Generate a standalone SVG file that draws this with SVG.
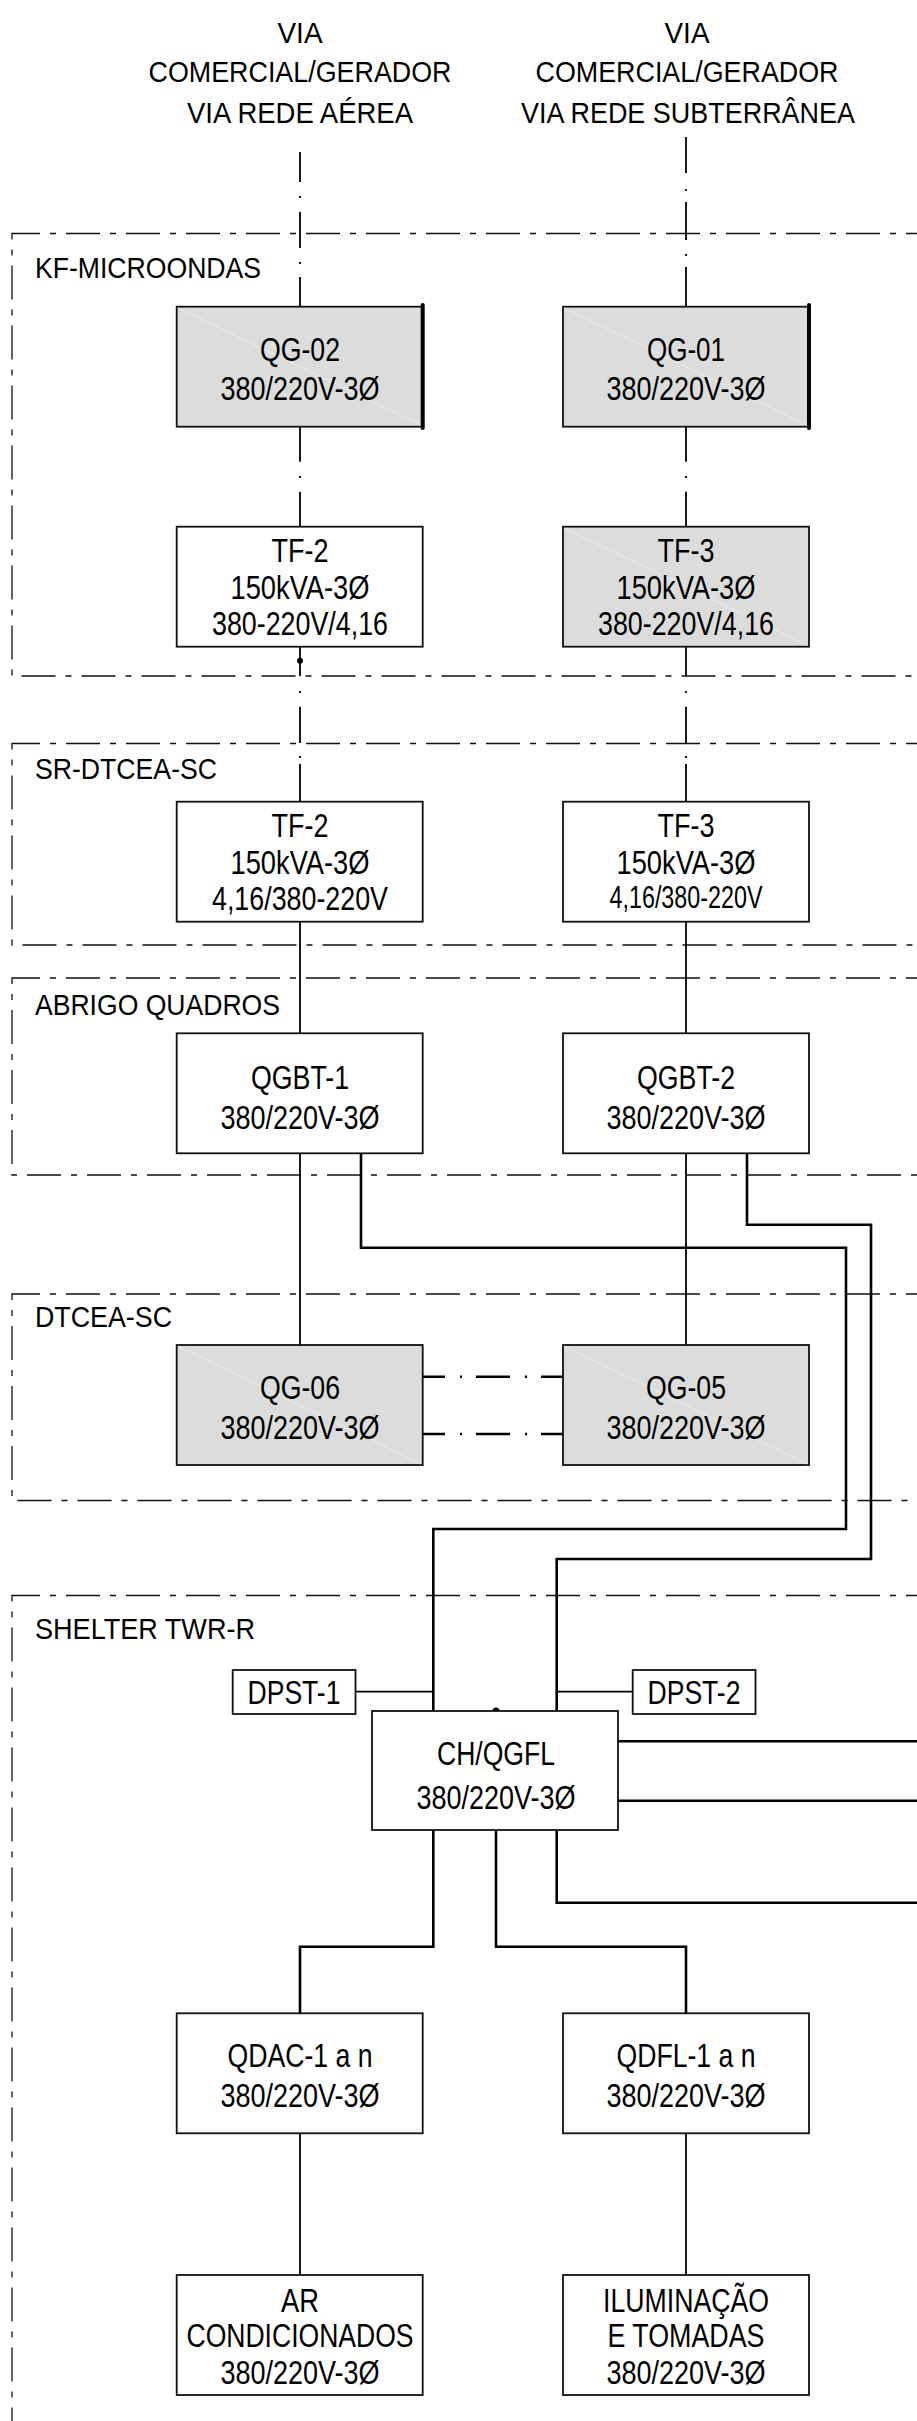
<svg xmlns="http://www.w3.org/2000/svg" width="917" height="2421" viewBox="0 0 917 2421">
<defs>
<style>
text{font-family:"Liberation Sans",Arial,sans-serif;fill:#000;}
.t{font-size:33.5px;text-anchor:middle;}
.l{font-size:30px;}
.lc{font-size:30px;text-anchor:middle;}
.box{fill:#fff;stroke:#111;stroke-width:1.8;}
.grey{fill:#dcdcdc;stroke:#111;stroke-width:1.8;}
.diag{stroke:#ececec;stroke-width:1;}
.edge{stroke:#000;stroke-width:4;stroke-linecap:round;}
.region{fill:none;stroke:#111;stroke-width:1.3;stroke-dasharray:34 10 6 10;}
.w{fill:none;stroke:#000;stroke-width:1.8;}
.wt{fill:none;stroke:#000;stroke-width:2.6;}
.dd{fill:none;stroke:#000;stroke-width:2.6;stroke-dasharray:34 15 2 14;}
</style>
</defs>
<rect width="917" height="2421" fill="#fff"/>

<g id="regions">
<path class="region" d="M940 233.5 H12 V676 H940"/>
<path class="region" d="M940 743.5 H12 V945 H940"/>
<path class="region" d="M940 978 H12 V1175 H940"/>
<path class="region" d="M940 1294 H12 V1500.5 H940"/>
<path class="region" d="M940 1595.5 H12 V2440"/>
<text class="l" x="35" y="278" textLength="226" lengthAdjust="spacingAndGlyphs">KF-MICROONDAS</text>
<text class="l" x="35" y="779" textLength="182" lengthAdjust="spacingAndGlyphs">SR-DTCEA-SC</text>
<text class="l" x="35" y="1015" textLength="245" lengthAdjust="spacingAndGlyphs">ABRIGO QUADROS</text>
<text class="l" x="35" y="1327" textLength="137" lengthAdjust="spacingAndGlyphs">DTCEA-SC</text>
<text class="l" x="35" y="1639" textLength="220" lengthAdjust="spacingAndGlyphs">SHELTER TWR-R</text>
</g>

<g id="source-aerea">
<text class="lc" x="300" y="43" textLength="45" lengthAdjust="spacingAndGlyphs">VIA</text>
<text class="lc" x="300" y="82" textLength="303" lengthAdjust="spacingAndGlyphs">COMERCIAL/GERADOR</text>
<text class="lc" x="300" y="123" textLength="226" lengthAdjust="spacingAndGlyphs">VIA REDE AÉREA</text>
</g>
<g id="source-subterranea">
<text class="lc" x="687" y="43" textLength="45" lengthAdjust="spacingAndGlyphs">VIA</text>
<text class="lc" x="687" y="82" textLength="303" lengthAdjust="spacingAndGlyphs">COMERCIAL/GERADOR</text>
<text class="lc" x="688" y="123" textLength="334" lengthAdjust="spacingAndGlyphs">VIA REDE SUBTERRÂNEA</text>
</g>

<g id="connectors">
<path class="w" d="M300 152 V182 M300 196 V198 M300 212 V248 M300 262 V264 M300 277 V307"/>
<path class="w" d="M686 137 V173 M686 189 V191 M686 202 V240 M686 254 V256 M686 267 V307"/>
<path class="w" d="M300 427 V461.7 M300 476 V478 M300 491.7 V527"/>
<path class="w" d="M686 427 V461.7 M686 476 V478 M686 491.7 V527"/>
<path class="w" d="M300 647 V676 M300 691 V693 M300 706.7 V743 M300 756 V758 M300 764 V802"/>
<path class="w" d="M686 647 V676 M686 691 V693 M686 706.7 V743 M686 756 V758 M686 764 V802"/>
<circle cx="300" cy="660.7" r="3" fill="#000"/>
<path class="w" d="M300 922 V1033.5"/>
<path class="w" d="M686 922 V1033.5"/>
<path class="w" d="M300 1153.5 V1345"/>
<path class="w" d="M686 1153.5 V1345"/>
<path class="wt" d="M361 1153.5 V1247.7 H846 V1529 H433.3 V1711"/>
<path class="wt" d="M747 1153.5 V1224.7 H871 V1559 H556.7 V1711"/>
<path class="dd" d="M423 1376.7 H563" stroke-dashoffset="12"/>
<path class="dd" d="M423 1434 H563" stroke-dashoffset="12"/>
<path class="w" d="M355.5 1691.7 H433.3"/>
<path class="w" d="M556.7 1691.7 H632.7"/>
<circle cx="496" cy="1711" r="3.5" fill="#000"/>
<path class="wt" d="M618 1741.3 H930"/>
<path class="wt" d="M618 1800.7 H930"/>
<path class="wt" d="M556.7 1830 V1902.7 H930"/>
<path class="wt" d="M433.3 1830 V1946.7 H300 V2013.5"/>
<path class="wt" d="M496 1830 V1946.7 H686 V2013.5"/>
<path class="w" d="M300 2133.5 V2275"/>
<path class="w" d="M686 2133.5 V2275"/>
</g>

<g id="QG-02">
<rect class="grey" x="176.7" y="306.7" width="246" height="120"/>
<line class="diag" x1="178" y1="308" x2="421" y2="425"/>
<line class="edge" x1="422.7" y1="305" x2="422.7" y2="428"/>
<text class="t" x="300" y="361" textLength="80" lengthAdjust="spacingAndGlyphs">QG-02</text>
<text class="t" x="300" y="400" textLength="159" lengthAdjust="spacingAndGlyphs">380/220V-3Ø</text>
</g>
<g id="QG-01">
<rect class="grey" x="563" y="306.7" width="246" height="120"/>
<line class="diag" x1="564" y1="308" x2="807" y2="425"/>
<line class="edge" x1="809" y1="305" x2="809" y2="428"/>
<text class="t" x="686" y="361" textLength="78" lengthAdjust="spacingAndGlyphs">QG-01</text>
<text class="t" x="686" y="400" textLength="159" lengthAdjust="spacingAndGlyphs">380/220V-3Ø</text>
</g>
<g id="TF-2-KF">
<rect class="box" x="176.7" y="526.7" width="246" height="120"/>
<text class="t" x="300" y="562" textLength="57" lengthAdjust="spacingAndGlyphs">TF-2</text>
<text class="t" x="300" y="598.5" textLength="139" lengthAdjust="spacingAndGlyphs">150kVA-3Ø</text>
<text class="t" x="300" y="635" textLength="176" lengthAdjust="spacingAndGlyphs">380-220V/4,16</text>
</g>
<g id="TF-3-KF">
<rect class="grey" x="563" y="526.7" width="246" height="120"/>
<line class="diag" x1="564" y1="528" x2="807" y2="645"/>
<text class="t" x="686" y="562" textLength="57" lengthAdjust="spacingAndGlyphs">TF-3</text>
<text class="t" x="686" y="598.5" textLength="139" lengthAdjust="spacingAndGlyphs">150kVA-3Ø</text>
<text class="t" x="686" y="635" textLength="176" lengthAdjust="spacingAndGlyphs">380-220V/4,16</text>
</g>
<g id="TF-2-SR">
<rect class="box" x="176.7" y="801.7" width="246" height="120"/>
<text class="t" x="300" y="837" textLength="57" lengthAdjust="spacingAndGlyphs">TF-2</text>
<text class="t" x="300" y="874" textLength="139" lengthAdjust="spacingAndGlyphs">150kVA-3Ø</text>
<text class="t" x="300" y="909.5" textLength="176" lengthAdjust="spacingAndGlyphs">4,16/380-220V</text>
</g>
<g id="TF-3-SR">
<rect class="box" x="563" y="801.7" width="246" height="120"/>
<text class="t" x="686" y="837" textLength="57" lengthAdjust="spacingAndGlyphs">TF-3</text>
<text class="t" x="686" y="874" textLength="139" lengthAdjust="spacingAndGlyphs">150kVA-3Ø</text>
<text class="t" x="686" y="908" style="font-size:31px" textLength="153" lengthAdjust="spacingAndGlyphs">4,16/380-220V</text>
</g>
<g id="QGBT-1">
<rect class="box" x="176.7" y="1033.3" width="246" height="120"/>
<text class="t" x="300" y="1088.5" textLength="98" lengthAdjust="spacingAndGlyphs">QGBT-1</text>
<text class="t" x="300" y="1128.5" textLength="159" lengthAdjust="spacingAndGlyphs">380/220V-3Ø</text>
</g>
<g id="QGBT-2">
<rect class="box" x="563" y="1033.3" width="246" height="120"/>
<text class="t" x="686" y="1088.5" textLength="98" lengthAdjust="spacingAndGlyphs">QGBT-2</text>
<text class="t" x="686" y="1128.5" textLength="159" lengthAdjust="spacingAndGlyphs">380/220V-3Ø</text>
</g>
<g id="QG-06">
<rect class="grey" x="176.7" y="1345" width="246" height="120"/>
<line class="diag" x1="178" y1="1346" x2="421" y2="1464"/>
<text class="t" x="300" y="1398.5" textLength="80" lengthAdjust="spacingAndGlyphs">QG-06</text>
<text class="t" x="300" y="1438.5" textLength="159" lengthAdjust="spacingAndGlyphs">380/220V-3Ø</text>
</g>
<g id="QG-05">
<rect class="grey" x="563" y="1345" width="246" height="120"/>
<line class="diag" x1="564" y1="1346" x2="807" y2="1464"/>
<text class="t" x="686" y="1398.5" textLength="80" lengthAdjust="spacingAndGlyphs">QG-05</text>
<text class="t" x="686" y="1438.5" textLength="159" lengthAdjust="spacingAndGlyphs">380/220V-3Ø</text>
</g>
<g id="DPST-1">
<rect class="box" x="232.7" y="1670" width="122.8" height="44"/>
<text class="t" x="294" y="1704" textLength="93" lengthAdjust="spacingAndGlyphs">DPST-1</text>
</g>
<g id="DPST-2">
<rect class="box" x="632.7" y="1670" width="122.8" height="44"/>
<text class="t" x="694" y="1704" textLength="93" lengthAdjust="spacingAndGlyphs">DPST-2</text>
</g>
<g id="CH-QGFL">
<rect class="box" x="372" y="1711" width="246" height="119"/>
<text class="t" x="496" y="1765" textLength="118" lengthAdjust="spacingAndGlyphs">CH/QGFL</text>
<text class="t" x="496" y="1808.5" textLength="159" lengthAdjust="spacingAndGlyphs">380/220V-3Ø</text>
</g>
<g id="QDAC">
<rect class="box" x="176.7" y="2013.3" width="246" height="120"/>
<text class="t" x="300" y="2067" textLength="145" lengthAdjust="spacingAndGlyphs">QDAC-1 a n</text>
<text class="t" x="300" y="2107" textLength="159" lengthAdjust="spacingAndGlyphs">380/220V-3Ø</text>
</g>
<g id="QDFL">
<rect class="box" x="563" y="2013.3" width="246" height="120"/>
<text class="t" x="686" y="2067" textLength="139" lengthAdjust="spacingAndGlyphs">QDFL-1 a n</text>
<text class="t" x="686" y="2107" textLength="159" lengthAdjust="spacingAndGlyphs">380/220V-3Ø</text>
</g>
<g id="AR">
<rect class="box" x="176.7" y="2275" width="246" height="120"/>
<text class="t" x="300" y="2312" textLength="38" lengthAdjust="spacingAndGlyphs">AR</text>
<text class="t" x="300" y="2347" textLength="227" lengthAdjust="spacingAndGlyphs">CONDICIONADOS</text>
<text class="t" x="300" y="2383.5" textLength="159" lengthAdjust="spacingAndGlyphs">380/220V-3Ø</text>
</g>
<g id="ILUMINACAO">
<rect class="box" x="563" y="2275" width="246" height="120"/>
<text class="t" x="686" y="2312" textLength="166" lengthAdjust="spacingAndGlyphs">ILUMINAÇÃO</text>
<text class="t" x="686" y="2347" textLength="157" lengthAdjust="spacingAndGlyphs">E TOMADAS</text>
<text class="t" x="686" y="2383.5" textLength="159" lengthAdjust="spacingAndGlyphs">380/220V-3Ø</text>
</g>
</svg>
